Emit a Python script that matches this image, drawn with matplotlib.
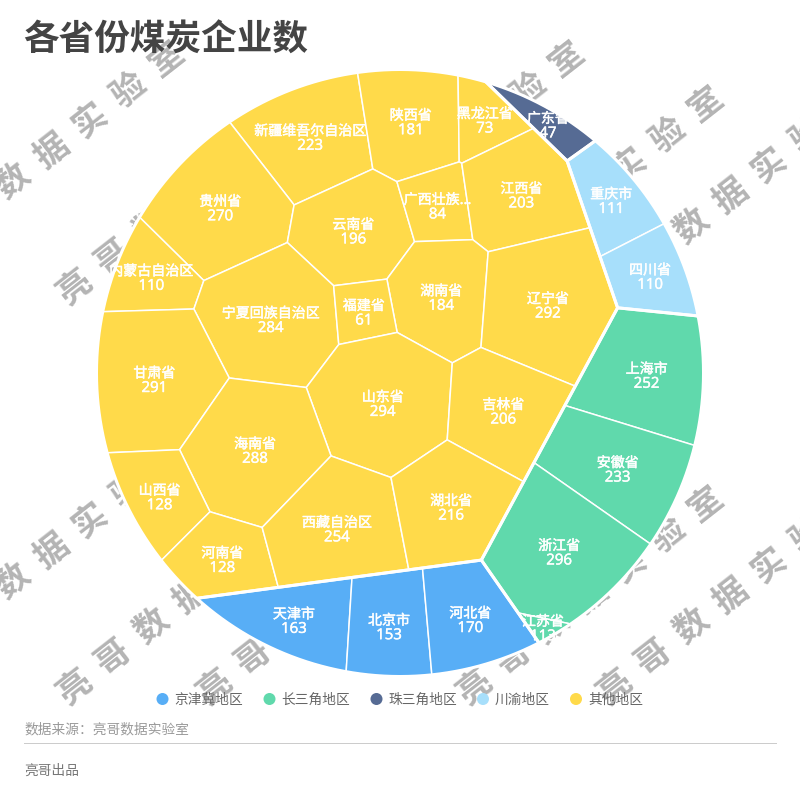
import numpy as np
import matplotlib
matplotlib.use("Agg")
import matplotlib.pyplot as plt
import matplotlib.patheffects as pe
from matplotlib.patches import Polygon, Circle

plt.rcParams['font.family'] = ['Noto Sans CJK SC', 'DejaVu Sans']

# datos
grupos = ['京津冀地区', '长三角地区', '珠三角地区', '川渝地区', '其他地区']
colores = ['#58AEF6', '#60D9AC', '#566B94', '#A7DFFB', '#FFDA4A']

jjj_nombres = ['天津市', '北京市', '河北省']
jjj_valores = [163, 153, 170]
csj_nombres = ['上海市', '安徽省', '浙江省', '江苏省']
csj_valores = [252, 233, 296, 113]
zsj_nombres = ['广东省']
zsj_valores = [47]
cy_nombres = ['重庆市', '四川省']
cy_valores = [111, 110]
otros_nombres = ['新疆维吾尔自治区', '陕西省', '黑龙江省', '贵州省', '云南省', '广西壮族...',
                 '江西省', '内蒙古自治区', '湖南省', '辽宁省', '宁夏回族自治区', '福建省',
                 '甘肃省', '山东省', '吉林省', '海南省', '山西省', '河南省', '西藏自治区', '湖北省']
otros_valores = [223, 181, 73, 270, 196, 84, 203, 110, 184, 292, 284, 61,
                 291, 294, 206, 288, 128, 128, 254, 216]

nombres = [jjj_nombres, csj_nombres, zsj_nombres, cy_nombres, otros_nombres]
valores = [jjj_valores, csj_valores, zsj_valores, cy_valores, otros_valores]

# semillas del voronoi (solo layout, en pixeles)
sem_grupos = [(386, 598), (587, 458), (536, 139), (609, 241), (350, 330)]
sem_celdas = [
    [(294, 621), (390, 627), (470, 620)],
    [(646, 376), (617, 470), (559, 553), (543, 629)],
    [(547, 126)],
    [(611, 201), (650, 277)],
    [(310, 138), (411, 122), (485, 121), (220, 208), (353, 232), (438, 207),
     (521, 195), (151, 278), (441, 297), (547, 305), (271, 320), (363, 312),
     (154, 380), (382, 404), (503, 412), (255, 450), (159, 497), (222, 560),
     (337, 529), (451, 507)],
]
# el area de 江苏省 en el original queda casi sin converger
area_ajuste = {'江苏省': 13}

CX, CY, R = 400, 373, 303.5


def cortar(poli, a, b):
    # deja la parte de poli donde a . x <= b
    d = poli @ a - b
    dentro = d <= 0
    if dentro.all():
        return poli
    if not dentro.any():
        return poli[:0]
    sig = np.roll(poli, -1, axis=0)
    dsig = np.roll(d, -1)
    res = []
    for i in range(len(poli)):
        if dentro[i]:
            res.append(poli[i])
        if dentro[i] != (dsig[i] <= 0):
            t = d[i] / (d[i] - dsig[i])
            res.append(poli[i] + t * (sig[i] - poli[i]))
    return np.array(res)


def area(poli):
    if len(poli) < 3:
        return 0.0
    x, y = poli[:, 0], poli[:, 1]
    return 0.5 * abs(np.dot(x, np.roll(y, -1)) - np.dot(y, np.roll(x, -1)))


def centroide(poli):
    x, y = poli[:, 0], poli[:, 1]
    xs, ys = np.roll(x, -1), np.roll(y, -1)
    c = x * ys - xs * y
    A = c.sum() / 2
    return ((x + xs) * c).sum() / (6 * A), ((y + ys) * c).sum() / (6 * A)


def celdas_potencia(base, sem, w):
    out = []
    for i in range(len(sem)):
        p = base
        for j in range(len(sem)):
            if i == j:
                continue
            a = 2 * (sem[j] - sem[i])
            b = sem[j] @ sem[j] - sem[i] @ sem[i] - w[j] + w[i]
            p = cortar(p, a, b)
            if len(p) == 0:
                break
        out.append(p)
    return out


def resolver(base, sem, pesos, iters=250):
    # ajusta los pesos hasta que cada area sea proporcional a su valor
    sem = np.array(sem, dtype=float)
    pesos = np.array(pesos, dtype=float)
    obj = pesos / pesos.sum() * area(base)
    w = np.zeros(len(sem))
    if len(sem) == 1:
        return [base]
    for k in range(iters):
        cs = celdas_potencia(base, sem, w)
        ar = np.array([area(c) for c in cs])
        w += 0.25 * (obj - ar)
        w -= w.mean()
    return celdas_potencia(base, sem, w)


ang = np.linspace(0, 2 * np.pi, 240, endpoint=False)
circulo = np.column_stack([CX + R * np.cos(ang), CY + R * np.sin(ang)])

pesos_grupo = [[area_ajuste.get(n, v) for n, v in zip(ns, vs)]
               for ns, vs in zip(nombres, valores)]
polis_grupo = resolver(circulo, sem_grupos, [sum(p) for p in pesos_grupo])

fig = plt.figure(figsize=(8, 8), dpi=100)
ax = fig.add_axes([0, 0, 1, 1])
ax.set_xlim(0, 800)
ax.set_ylim(800, 0)
ax.axis('off')

px = 0.72  # puntos por pixel a dpi 100
grueso = [pe.withStroke(linewidth=0.35, foreground='white')]

# marca de agua
marca = '亮哥数据实验室'
inicios = [(x, y) for y in (287, 687) for x in (74, 214, 474, 614)]
inicios += [(x, y) for y in (242, 642) for x in (-65, 335)]
for x0, y0 in inicios:
    for i, ch in enumerate(marca):
        ax.text(x0 + 38.7 * i, y0 - 30.5 * i, ch, fontsize=34 * px, color='#B4B4B4',
                fontweight='bold', rotation=38, rotation_mode='anchor',
                ha='center', va='center', zorder=1)

for g in range(len(grupos)):
    polis = resolver(polis_grupo[g], sem_celdas[g], pesos_grupo[g])
    for n, v, p in zip(nombres[g], valores[g], polis):
        parche = Polygon(p, closed=True, facecolor=colores[g], edgecolor='white',
                         linewidth=1.5 * px, zorder=2)
        ax.add_patch(parche)
        cx, cy = centroide(p)
        t1 = ax.text(cx, cy - 5, n, color='white', fontsize=14 * px, ha='center',
                     va='center', zorder=4, path_effects=grueso)
        t2 = ax.text(cx, cy + 10, str(v), color='white', fontsize=15 * px, ha='center',
                     va='center', family='Open Sans', zorder=4, path_effects=grueso)
        t1.set_clip_path(parche)
        t2.set_clip_path(parche)
    ax.add_patch(Polygon(polis_grupo[g], closed=True, facecolor='none', edgecolor='white',
                         linewidth=3 * px, zorder=3))

# titulo
ax.text(23, 40, '各省份煤炭企业数', fontsize=35.6 * px, fontweight='bold', color='#444444',
        ha='left', va='center', zorder=5)

# leyenda
ley_x = [162.5, 269.5, 376.5, 483, 576]
for x, g, c in zip(ley_x, grupos, colores):
    ax.add_patch(Circle((x, 699), 6, facecolor=c, edgecolor='none', zorder=5))
    ax.text(x + 12, 699.5, g, fontsize=13.7 * px, color='#666666', ha='left', va='center', zorder=5)

ax.text(24, 729.5, '数据来源：亮哥数据实验室', fontsize=13.7 * px, color='#999999',
        ha='left', va='center', zorder=5)
ax.plot([24, 776], [743, 743], color='#CCCCCC', lw=1 * px, zorder=5)
ax.text(24, 770.5, '亮哥出品', fontsize=13.7 * px, color='#777777',
        ha='left', va='center', zorder=5)

fig.savefig('out.png', dpi=100)
